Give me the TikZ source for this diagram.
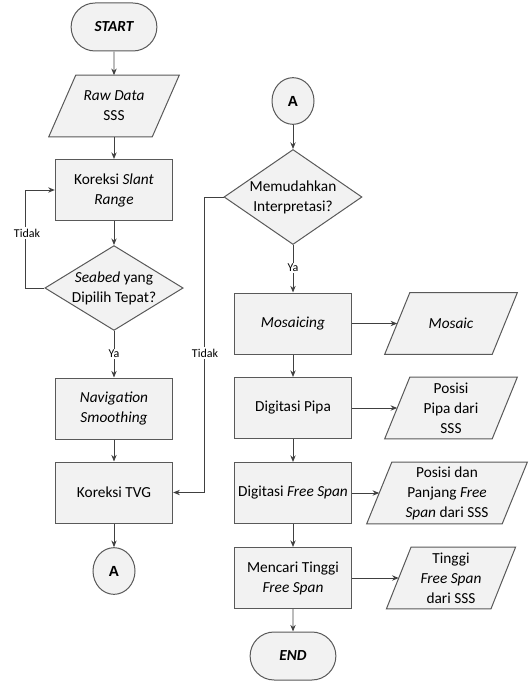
\documentclass[tikz,border=0pt]{standalone}
\usepackage{fontspec}
\setmainfont{Carlito}
\newfontfamily\labfont{Liberation Sans}
\usetikzlibrary{shapes.geometric,shapes.misc,arrows.meta,backgrounds}
\begin{document}
\begin{tikzpicture}[x=0.75pt,y=-0.75pt,
  every node/.style={font=\fontsize{11.5}{15}\selectfont, align=center},
  shp/.style={draw=black!65, line width=0.75pt, fill=black!5},
  box/.style={shp, rectangle, minimum width=88pt, minimum height=45.75pt, inner sep=1pt},
  term/.style={shp, rounded rectangle, minimum width=71pt, minimum height=36pt, font=\fontsize{11.5}{15}\selectfont\bfseries\itshape},
  dec/.style={shp, diamond, inner sep=0pt},
  conn/.style={shp, ellipse, minimum width=31.5pt, minimum height=35pt, inner sep=0pt, font=\labfont\bfseries\fontsize{11}{12}\selectfont},
  io/.style={rectangle, minimum height=45.75pt, inner sep=0pt},
  arr/.style={draw=black!75, line width=0.7pt, -{Stealth[length=5pt,width=4pt]}},
  lbl/.style={fill=white, inner sep=1pt, font=\fontsize{9}{10}\selectfont}
]
\useasboundingbox (0,0) rectangle (528,681);

% left column
\node[term] (start) at (114,27) {START};
\node[io, minimum width=77.25pt] (raw) at (114,106) {\textit{Raw Data}\\SSS};
\node[box] (slant) at (114,190) {Koreksi \textit{Slant}\\\textit{Range}};
\node[dec, minimum width=102.75pt, minimum height=63pt, aspect=1.63] (seabed) at (114,288) {\textit{Seabed} yang\\Dipilih Tepat?};
\node[box] (nav) at (114,408.5) {\textit{Navigation}\\\textit{Smoothing}};
\node[box] (tvg) at (114,492.5) {Koreksi TVG};
\node[conn] (a1) at (114,571) {A};

% right column
\node[conn] (a2) at (293,101) {A};
\node[dec, minimum width=103.5pt, minimum height=71.25pt, aspect=1.45] (interp) at (293,197) {Memudahkan\\Interpretasi?};
\node[box] (mos) at (293,323.5) {\textit{Mosaicing}};
\node[box] (dpipa) at (293,408) {Digitasi Pipa};
\node[box] (dfree) at (293,493) {Digitasi \textit{Free Span}};
\node[box] (tinggi) at (293,578) {Mencari Tinggi\\\textit{Free Span}};
\node[term] (end) at (293,656) {END};

% outputs
\node[io, minimum width=80.25pt] (mosaic) at (451,323.5) {\textit{Mosaic}};
\node[io, minimum width=80.25pt] (ppipa) at (451,408) {Posisi\\Pipa dari\\SSS};
\node[io, minimum width=101.25pt] (pfree) at (447,493) {Posisi dan\\Panjang \textit{Free}\\\textit{Span} dari SSS};
\node[io, minimum width=78pt] (ptinggi) at (451,578) {Tinggi\\\textit{Free Span}\\dari SSS};

\begin{scope}[on background layer]
\foreach \n/\s in {raw/10.1,mosaic/9.4,ppipa/9.4,pfree/9.4,ptinggi/9.2}
  \draw[shp] ([xshift=-\s*1pt]\n.south west) -- ([xshift=-\s*1pt]\n.south east) -- ([xshift=\s*1pt]\n.north east) -- ([xshift=\s*1pt]\n.north west) -- cycle;
\end{scope}

% connectors
\draw[arr] (start) -- (raw);
\draw[arr] (raw) -- (slant);
\draw[arr] (slant) -- (seabed);
\draw[arr] (seabed.west) -- ++(-19,0) |- (slant.west);
\node[lbl] (t1) at (27,233) {Tidak};
\draw[arr] (seabed) -- (nav);
\node[lbl] (y1) at (114,354) {Ya};
\draw[arr] (nav) -- (tvg);
\draw[arr] (tvg) -- (a1);

\draw[arr] (a2) -- (interp);
\draw[arr] (interp.west) -- ++(-19,0) |- (tvg.east);
\node[lbl] (t2) at (205,353) {Tidak};
\draw[arr] (interp) -- (mos);
\node[lbl] (y2) at (293,268) {Ya};
\draw[arr] (mos) -- (dpipa);
\draw[arr] (dpipa) -- (dfree);
\draw[arr] (dfree) -- (tinggi);
\draw[arr] (tinggi) -- (end);

\draw[arr] (mos) -- (mosaic.west);
\draw[arr] (dpipa) -- (ppipa.west);
\draw[arr] (dfree) -- (pfree.west);
\draw[arr] (tinggi) -- (ptinggi.west);
\end{tikzpicture}
\end{document}
